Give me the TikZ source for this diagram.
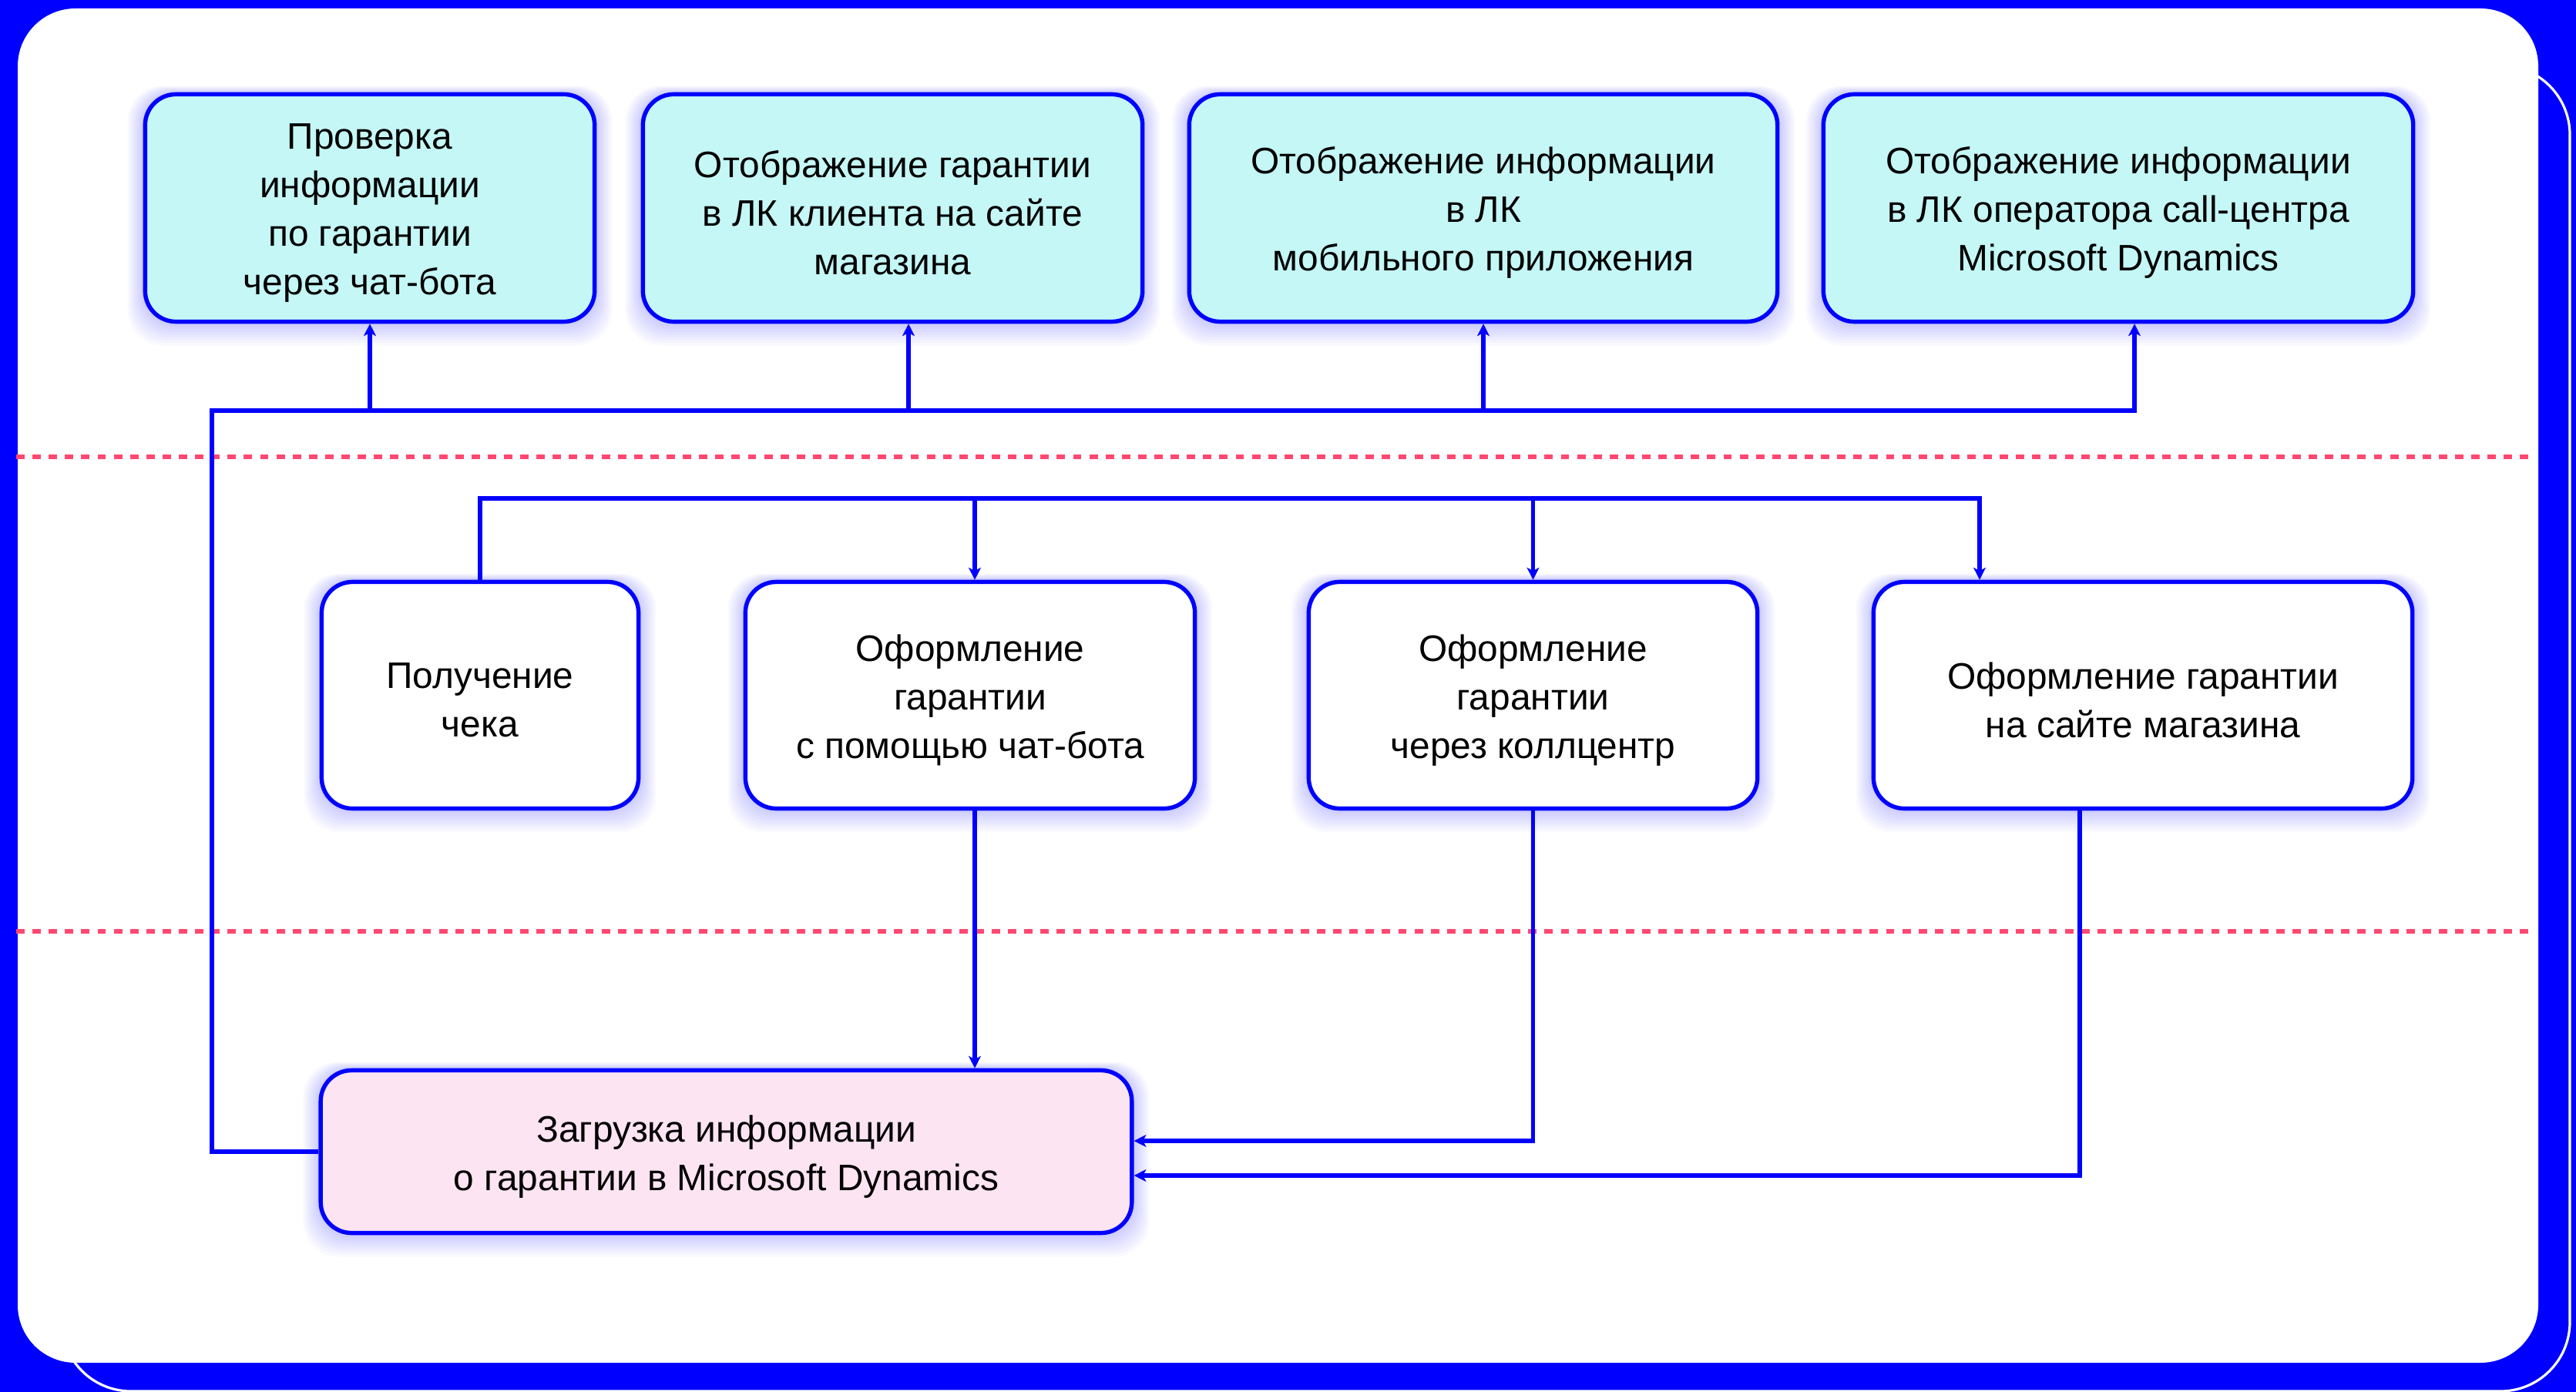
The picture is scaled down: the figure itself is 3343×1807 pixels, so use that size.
\documentclass[tikz,border=0pt]{standalone}
\usepackage{fontspec}
\setmainfont{Liberation Sans}
\usetikzlibrary{arrows.meta,calc}
\pgfdeclarelayer{bg}
\pgfdeclarelayer{glow}
\pgfsetlayers{bg,glow,main}
\definecolor{frameblue}{RGB}{0,0,255}
\definecolor{cyanfill}{RGB}{196,247,246}
\definecolor{pinkfill}{RGB}{253,228,242}
\definecolor{dashred}{RGB}{255,72,112}
\tikzset{
  box/.style={draw=frameblue, line width=1.55pt, rounded corners=0.4cm, inner sep=0pt},
  boxtext/.style={align=center, inner sep=0pt, font=\fontsize{13.6}{17.9}\selectfont,
    text=black, yshift=-1.8pt},
  txt/.style={label={[boxtext]center:{#1}}},
  topbox/.style={box, fill=cyanfill, minimum height=2.95cm},
  midbox/.style={box, fill=white, minimum height=2.94cm},
  loadbox/.style={box, fill=pinkfill, minimum height=2.11cm},
  conn/.style={draw=frameblue, line width=1.45pt},
  arr/.style={conn, -{Stealth[length=4.5pt,width=4.5pt,inset=1.2pt]}},
  sepline/.style={draw=dashred, line width=1.5pt, dash pattern=on 3.1pt off 2.9pt},
  glowfill/.style={fill=frameblue, opacity=0.022, rounded corners=0.45cm}
}
\newcommand{\glowbox}[1]{%
  \begin{pgfonlayer}{glow}
    \foreach \k in {1,...,8}{%
      \fill[glowfill] ([shift={(-2.5*\k,3.5*\k)}]#1.south west) rectangle ([shift={(2.5*\k,-1*\k)}]#1.north east);
    }
  \end{pgfonlayer}}
\begin{document}
\begin{tikzpicture}[x=0.01cm,y=-0.01cm]
\useasboundingbox (0,0) rectangle (3343,1807);
\begin{pgfonlayer}{bg}
  \fill[frameblue] (0,0) rectangle (3343,1807);
  \draw[white, line width=0.9pt, rounded corners=0.9cm] (80,85) rectangle (3335,1806);
  \fill[white, rounded corners=0.75cm] (23,11) rectangle (3294,1769);
\end{pgfonlayer}

% separators
\draw[sepline] (21,593) -- (3285,593);
\draw[sepline] (21,1209) -- (3285,1209);

% top row
\node[topbox, minimum width=5.83cm, txt={Проверка\\информации\\по гарантии\\через чат-бота}] (B1) at (480,270) {};
\node[topbox, minimum width=6.48cm, txt={Отображение гарантии\\в ЛК клиента на сайте\\магазина}] (B2) at (1158.5,270) {};
\node[topbox, minimum width=7.63cm, txt={Отображение информации\\в ЛК\\мобильного приложения}] (B3) at (1925,270) {};
\node[topbox, minimum width=7.65cm, txt={Отображение информации\\в ЛК оператора call-центра\\Microsoft Dynamics}] (B4) at (2749,270) {};

% middle row
\node[midbox, minimum width=4.11cm, txt={Получение\\чека}] (M1) at (623,902.5) {};
\node[midbox, minimum width=5.83cm, txt={Оформление\\гарантии\\с помощью чат-бота}] (M2) at (1259,902.5) {};
\node[midbox, minimum width=5.82cm, txt={Оформление\\гарантии\\через коллцентр}] (M3) at (1989.5,902.5) {};
\node[midbox, minimum width=6.99cm, txt={Оформление гарантии\\на сайте магазина}] (M4) at (2781,902.5) {};

% bottom
\node[loadbox, minimum width=10.52cm, txt={Загрузка информации\\о гарантии в Microsoft Dynamics}] (Z) at (942.5,1495) {};

\glowbox{B1}\glowbox{B2}\glowbox{B3}\glowbox{B4}
\glowbox{M1}\glowbox{M2}\glowbox{M3}\glowbox{M4}
\glowbox{Z}

% helper coordinates
\coordinate (L) at (275,533);
\coordinate (T2) at (0,647);
\coordinate (b1in) at (B1.south);
\coordinate (b2in) at ($(B2.south)+(20.5,0)$);
\coordinate (b3in) at (B3.south);
\coordinate (b4in) at ($(B4.south)+(21,0)$);
\coordinate (m2in) at ($(M2.north)+(6,0)$);
\coordinate (m3in) at (M3.north);
\coordinate (m4in) at ($(M4.north)+(-212,0)$);
\coordinate (m2out) at ($(M2.south)+(6,0)$);
\coordinate (m4out) at ($(M4.south)+(-82,0)$);
\coordinate (z1) at ($(Z.east)+(0,-14)$);
\coordinate (z2) at ($(Z.east)+(0,31)$);

% upper connectors
\draw[arr] (Z.west) -| (L) -| (b4in);
\draw[arr] (b1in |- L) -- (b1in);
\draw[arr] (b2in |- L) -- (b2in);
\draw[arr] (b3in |- L) -- (b3in);

% middle connectors
\draw[arr] (M1.north) |- (m4in |- T2) -- (m4in);
\draw[arr] (m2in |- T2) -- (m2in);
\draw[arr] (m3in |- T2) -- (m3in);

% lower connectors
\draw[arr] (m2out) -- (m2out |- Z.north);
\draw[arr] (M3.south) |- (z1);
\draw[arr] (m4out) |- (z2);
\end{tikzpicture}
\end{document}
